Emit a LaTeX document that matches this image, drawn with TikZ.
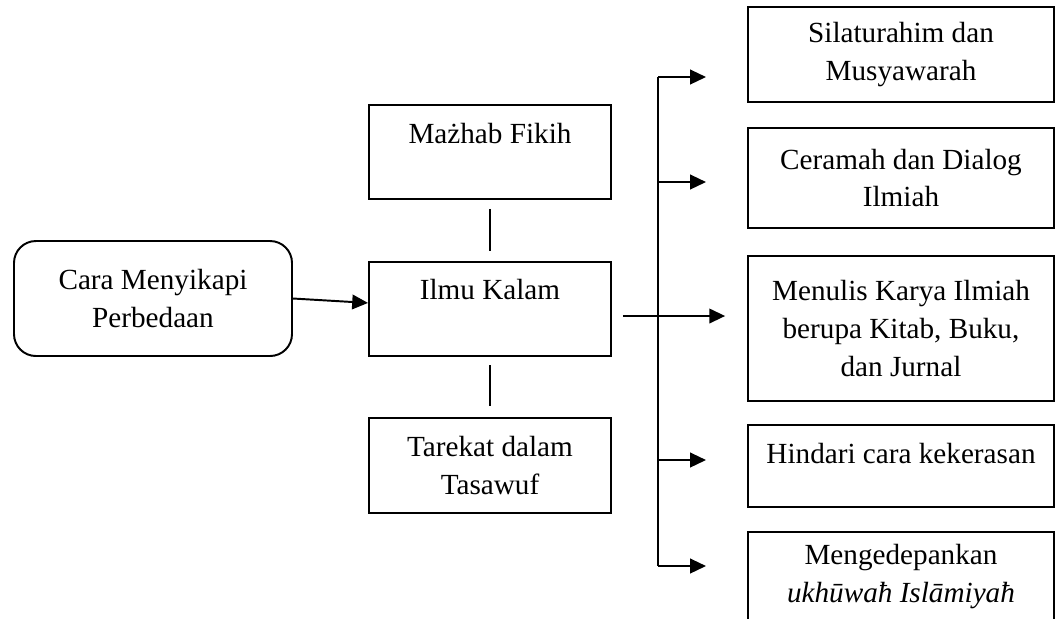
\documentclass[tikz,border=0pt]{standalone}
\usepackage{fontspec}
\setmainfont{Liberation Serif}
\usetikzlibrary{positioning,calc,arrows.meta}

\tikzset{
  box/.style={draw, thick, align=center, inner sep=0pt, font=\fontsize{12}{15.5}\selectfont},
  topline/.style={text height=8.2pt, text depth=#1},
  arr/.style={thick, -{Triangle[length=6.5pt,width=6pt]}}
}

\begin{document}
\begin{tikzpicture}[x=0.411pt, y=-0.411pt]
  \useasboundingbox (0,0) rectangle (1055,618);
  \clip (0,0) rectangle (1055,618);

  % Starting box
  \node[box, rounded corners=9pt, minimum width=278*0.411pt, minimum height=115*0.411pt] (cara) at (153,298.5) {Cara Menyikapi\\Perbedaan};

  % 3 differences
  \node[box, topline=15.6pt, minimum width=242*0.411pt, minimum height=94*0.411pt] (mazhab) at (490,152) {Mażhab Fikih};
  \node[box, topline=16.4pt, minimum width=242*0.411pt, minimum height=94*0.411pt] (ilmu) at (490,309) {Ilmu Kalam};
  \node[box, minimum width=242*0.411pt, minimum height=95*0.411pt] (tarekat) at (490,465.5) {Tarekat dalam\\Tasawuf};

  \draw[arr] (cara.east) -- ([yshift=2.5pt]ilmu.west);
  \draw[thick, shorten <=3.7pt, shorten >=4pt] (mazhab) -- (ilmu);
  \draw[thick, shorten <=3.3pt, shorten >=4.5pt] (ilmu) -- (tarekat);

  % 5 ways
  \node[box, minimum width=306*0.411pt, minimum height=95*0.411pt] (silaturahim) at (901,54.5) {Silaturahim dan\\Musyawarah};
  \node[box, minimum width=306*0.411pt, minimum height=100*0.411pt] (ceramah) at (901,178) {Ceramah dan Dialog\\Ilmiah};
  \node[box, minimum width=306*0.411pt, minimum height=145*0.411pt] (menulis) at (901,328.5) {Menulis Karya Ilmiah\\berupa Kitab, Buku,\\dan Jurnal};
  \node[box, topline=10.6pt, minimum width=306*0.411pt, minimum height=82*0.411pt] (hindari) at (901,466) {Hindari cara kekerasan};
  \node[box, minimum width=306*0.411pt, minimum height=89*0.411pt] (ukhuwah) at (901,576.5) {Mengedepankan\\\textit{ukhūwaħ Islāmiyaħ}};

  % Bus and arrows
  \coordinate (bus) at (658,316);
  \coordinate (tip1) at (706,77);
  \coordinate (tip2) at (706,182);
  \coordinate (tip4) at (706,460);
  \coordinate (tip5) at (706,566);
  \draw[thick] (bus |- tip1) -- (bus |- tip5);
  \foreach \k in {1,2,4,5} {
    \draw[arr] (bus |- tip\k) -- (tip\k);
  }
  \draw[arr, shorten <=4.5pt, shorten >=9pt] (ilmu.east |- bus) -- (bus -| menulis.west);
\end{tikzpicture}
\end{document}
